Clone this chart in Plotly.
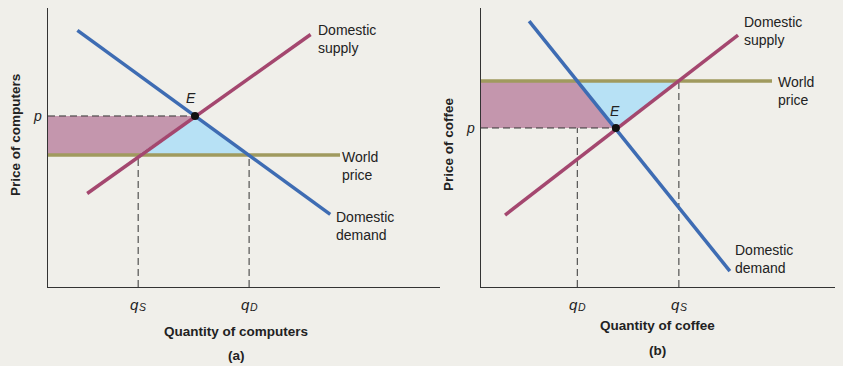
import plotly.graph_objects as go

# ---- Panel (a): computers (world price below domestic equilibrium) ----
a_demand_q = [0.75, 7.2]
a_demand_p = [9.2, 2.6]
a_supply_q = [1.0, 6.7]
a_supply_p = [3.35, 9.05]
a_world_q = [0.0, 7.45]
a_world_price = 4.73
a_eq_q, a_eq_p = 3.75, 6.13
a_qS, a_qD = 2.30, 5.13

# ---- Panel (b): coffee (world price above domestic equilibrium) ----
b_demand_q = [1.36, 7.03]
b_demand_p = [9.53, 0.57]
b_supply_q = [0.68, 7.26]
b_supply_p = [2.58, 9.03]
b_world_q = [0.0, 8.22]
b_world_price = 7.38
b_eq_q, b_eq_p = 3.81, 5.70
b_qD, b_qS = 2.72, 5.59

BG = "#f0efea"
BLUE = "#3e6cb3"
PURPLE = "#a4476f"
OLIVE = "#a09a5e"
PINK = "#c496ad"
SKY = "#b7e1f5"
AX = "#333333"
FONT = "Liberation Sans, Arial, sans-serif"

fig = go.Figure()

def panel(xa, ya, dq, dp, sq, sp, wq, wp, eq, ep, pink, blue, dashes):
    fig.add_trace(go.Scatter(x=pink[0], y=pink[1], fill="toself", fillcolor=PINK,
                             line=dict(width=0), mode="lines", xaxis=xa, yaxis=ya, hoverinfo="skip"))
    fig.add_trace(go.Scatter(x=blue[0], y=blue[1], fill="toself", fillcolor=SKY,
                             line=dict(width=0), mode="lines", xaxis=xa, yaxis=ya, hoverinfo="skip"))
    for (xs, ys) in dashes:
        fig.add_trace(go.Scatter(x=xs, y=ys, mode="lines", line=dict(color="#333333", width=1, dash="7px,4px"),
                                 xaxis=xa, yaxis=ya, hoverinfo="skip"))
    fig.add_trace(go.Scatter(x=wq, y=[wp, wp], mode="lines", line=dict(color=OLIVE, width=3.5),
                             xaxis=xa, yaxis=ya))
    fig.add_trace(go.Scatter(x=sq, y=sp, mode="lines", line=dict(color=PURPLE, width=3.5),
                             xaxis=xa, yaxis=ya))
    fig.add_trace(go.Scatter(x=dq, y=dp, mode="lines", line=dict(color=BLUE, width=3.5),
                             xaxis=xa, yaxis=ya))
    fig.add_trace(go.Scatter(x=[eq], y=[ep], mode="markers",
                             marker=dict(color="#111111", size=8), xaxis=xa, yaxis=ya))

panel("x", "y", a_demand_q, a_demand_p, a_supply_q, a_supply_p, a_world_q, a_world_price,
      a_eq_q, a_eq_p,
      pink=([0, a_qS, a_eq_q, 0, 0], [a_world_price, a_world_price, a_eq_p, a_eq_p, a_world_price]),
      blue=([a_qS, a_qD, a_eq_q, a_qS], [a_world_price, a_world_price, a_eq_p, a_world_price]),
      dashes=[([0, a_eq_q], [a_eq_p, a_eq_p]),
              ([a_qS, a_qS], [0, a_world_price]),
              ([a_qD, a_qD], [0, a_world_price])])

panel("x2", "y2", b_demand_q, b_demand_p, b_supply_q, b_supply_p, b_world_q, b_world_price,
      b_eq_q, b_eq_p,
      pink=([0, b_eq_q, b_qD, 0, 0], [b_eq_p, b_eq_p, b_world_price, b_world_price, b_eq_p]),
      blue=([b_eq_q, b_qS, b_qD, b_eq_q], [b_eq_p, b_world_price, b_world_price, b_eq_p]),
      dashes=[([0, b_eq_q], [b_eq_p, b_eq_p]),
              ([b_qD, b_qD], [0, b_eq_p]),
              ([b_qS, b_qS], [0, b_world_price])])

common = dict(showgrid=False, zeroline=False, showticklabels=False, ticks="",
              showline=True, linecolor=AX, linewidth=1.3, fixedrange=True)
fig.update_layout(
    width=843, height=366, margin=dict(l=0, r=0, t=0, b=0),
    paper_bgcolor=BG, plot_bgcolor=BG, showlegend=False,
    xaxis=dict(domain=[48/843, 440/843], range=[0, 10], anchor="y", **common),
    yaxis=dict(domain=[(366-287)/366, (366-8)/366], range=[0, 10], anchor="x", **common),
    xaxis2=dict(domain=[481/843, 835/843], range=[0, 10], anchor="y2", **common),
    yaxis2=dict(domain=[(366-287)/366, (366-8)/366], range=[0, 10], anchor="x2", **common),
)

lbl = dict(size=14, color="#222222", family=FONT)
ital = dict(size=14, color="#222222", family=FONT, style="italic")
qfont = dict(size=15, color="#222222", family=FONT, style="italic")
subfont = dict(size=10.5, color="#222222", family=FONT, style="italic")
bold = dict(size=13.5, color="#222222", family=FONT, weight="bold")

ann = []
def A(text, x, y, xref, yref, font, xanchor="left", yanchor="middle", textangle=0, xshift=0, yshift=0):
    ann.append(dict(text=text, x=x, y=y, xref=xref, yref=yref, showarrow=False, font=font,
                    xanchor=xanchor, yanchor=yanchor, align="left", textangle=textangle,
                    xshift=xshift, yshift=yshift, borderpad=0))

def Q(sub, x, xref, yref):
    A("q", x, 0, xref, yref, qfont, xanchor="right", xshift=2, yshift=-17)
    A(sub, x, 0, xref, yref, subfont, xanchor="left", xshift=0, yshift=-20)

# panel (a) labels
A("Domestic<br>supply", a_supply_q[1] + 0.15, a_supply_p[1] - 0.15, "x", "y", lbl)
A("World<br>price", a_world_q[1] + 0.03, a_world_price - 0.4, "x", "y", lbl)
A("Domestic<br>demand", a_demand_q[1] + 0.12, a_demand_p[1] - 0.4, "x", "y", lbl)
A("E", a_eq_q - 0.1, a_eq_p + 0.65, "x", "y", ital, xanchor="center")
A("p", 0, a_eq_p, "x", "y", ital, xanchor="right", xshift=-5)
Q("S", a_qS, "x", "y")
Q("D", a_qD, "x", "y")
A("Quantity of computers", 236/843, 1 - 331/366, "paper", "paper", bold, xanchor="center")
A("(a)", 236/843, 1 - 355/366, "paper", "paper", bold, xanchor="center")
A("Price of computers", 15/843, 1 - 135/366, "paper", "paper", bold, xanchor="center", textangle=-90)

# panel (b) labels
A("Domestic<br>supply", b_supply_q[1] + 0.15, b_supply_p[1] + 0.15, "x2", "y2", lbl)
A("World<br>price", b_world_q[1] + 0.15, b_world_price - 0.35, "x2", "y2", lbl)
A("Domestic<br>demand", b_demand_q[1] + 0.12, b_demand_p[1] + 0.45, "x2", "y2", lbl)
A("E", b_eq_q - 0.02, b_eq_p + 0.6, "x2", "y2", ital, xanchor="center")
A("p", 0, b_eq_p, "x2", "y2", ital, xanchor="right", xshift=-5)
Q("D", b_qD, "x2", "y2")
Q("S", b_qS, "x2", "y2")
A("Quantity of coffee", 657/843, 1 - 325/366, "paper", "paper", bold, xanchor="center")
A("(b)", 657/843, 1 - 350/366, "paper", "paper", bold, xanchor="center")
A("Price of coffee", 448/843, 1 - 144/366, "paper", "paper", bold, xanchor="center", textangle=-90)

fig.update_layout(annotations=ann)
fig.write_html("out.html")
